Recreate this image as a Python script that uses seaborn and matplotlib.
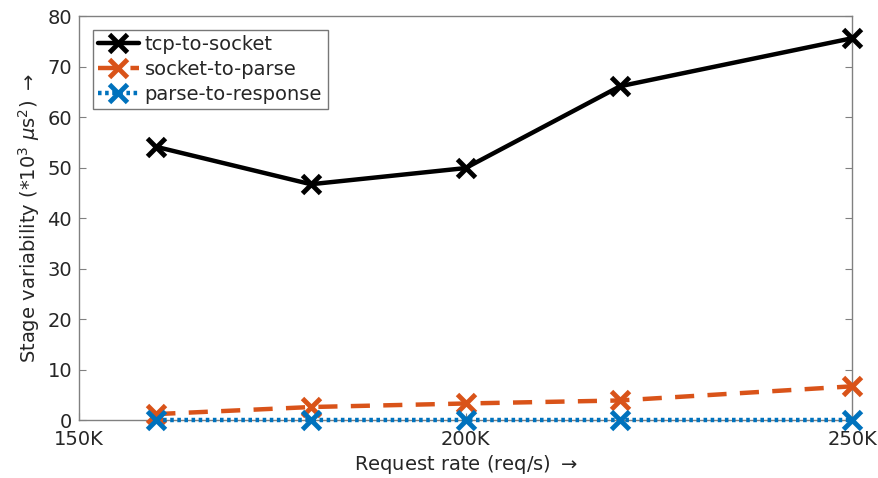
import matplotlib
matplotlib.use("Agg")
import matplotlib.pyplot as plt
import seaborn as sns
import pandas as pd

# Request rates (req/s) and per-stage variability (x10^3 us^2)
rates = [160000, 180000, 200000, 220000, 250000]
tcp_to_socket = [54.1, 46.7, 49.9, 66.1, 75.6]
socket_to_parse = [1.2, 2.6, 3.3, 3.9, 6.7]
parse_to_response = [0.1, 0.1, 0.1, 0.1, 0.1]

stages = ["tcp-to-socket", "socket-to-parse", "parse-to-response"]
colors = ["#000000", "#D95319", "#0072BD"]
dashes = [None, (4.3, 3.0), (0.8, 0.8)]

df = pd.concat([
    pd.DataFrame({"rate": rates, "value": vals, "stage": name})
    for name, vals in zip(stages, [tcp_to_socket, socket_to_parse, parse_to_response])
])

sns.set_theme(style="white")
plt.rcParams["font.family"] = ["DejaVu Sans"]

fig = plt.figure(figsize=(8.79, 4.78), dpi=100)
ax = fig.add_axes([0.0899, 0.121, 0.8794, 0.8455])

for name, col, ds in zip(stages, colors, dashes):
    sub = df[df["stage"] == name]
    sns.lineplot(data=sub, x="rate", y="value", ax=ax, color=col, label=name,
                 linewidth=3.2, marker="x", markersize=13, markeredgewidth=3.5,
                 markeredgecolor=col, clip_on=False, zorder=3)
    line = ax.get_lines()[-1]
    if ds is not None:
        line.set_dashes(ds)

ax.set_xlim(150000, 250000)
ax.set_ylim(0, 80)
ax.set_xticks([150000, 200000, 250000])
ax.set_xticklabels(["150K", "200K", "250K"])
ax.set_yticks(range(0, 81, 10))

grey = "#262626"
for sp in ax.spines.values():
    sp.set_visible(True)
    sp.set_color("#808080")
    sp.set_linewidth(1.0)
    sp.set_zorder(1)
ax.tick_params(axis="both", direction="in", length=5, width=0.8, color="#808080",
               labelsize=14, labelcolor=grey, right=True, top=False, left=True, bottom=True)
ax.tick_params(axis="x", pad=7)
ax.tick_params(axis="y", pad=5)

ax.set_xlabel(r"Request rate (req/s) $\rightarrow$", fontsize=14, color=grey, labelpad=3)
ax.set_ylabel(r"Stage variability (*10$^3$ $\mu$s$^2$) $\rightarrow$", fontsize=14, color=grey,
              labelpad=4)

leg = ax.legend(loc="upper left", fontsize=14, frameon=True, fancybox=False,
                borderaxespad=0.7, handlelength=2.1, handletextpad=0.3,
                labelspacing=0.3, borderpad=0.28)
leg.get_frame().set_edgecolor("#555555")
leg.get_frame().set_linewidth(1.0)
leg.set_zorder(5)
for t in leg.get_texts():
    t.set_color(grey)

fig.savefig("out.png", dpi=100)
